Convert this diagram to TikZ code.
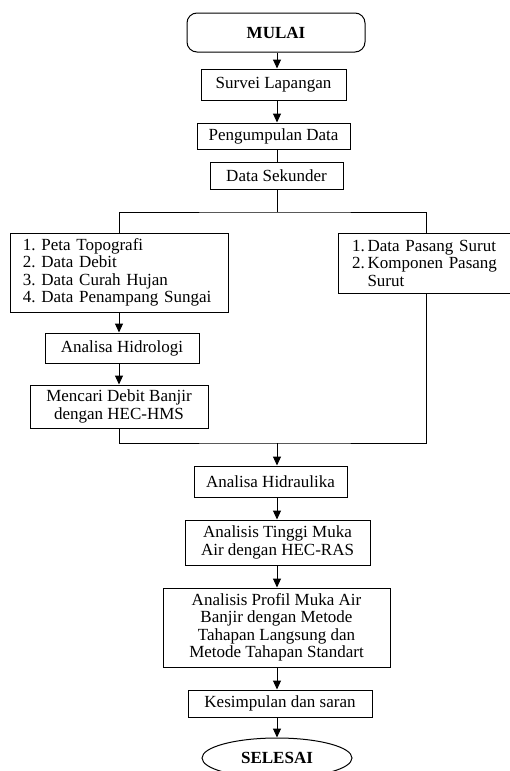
\documentclass[tikz,border=0pt]{standalone}
\usepackage{fontspec}
\setmainfont{Liberation Serif}
\usetikzlibrary{shapes,arrows.meta}
\newcommand{\chartfont}{\fontsize{17}{17.5}\selectfont\frenchspacing}

\tikzset{
  box/.style={draw, line width=1pt, inner sep=0pt, align=center, font=\chartfont},
  listbox/.style={box, align=left},
  term/.style={draw, line width=1pt, inner sep=0pt, font=\chartfont\bfseries},
  flow/.style={line width=1pt, -{Triangle[length=9pt,width=8pt]}},
  link/.style={line width=1pt}
}

\begin{document}
\begin{tikzpicture}[x=1pt,y=-1pt]
\useasboundingbox (0,0) rectangle (510,771);
\clip (0,0) rectangle (510,771);
\coordinate (spine) at (277,0);
\node[term, rounded corners=10pt, minimum width=178pt, minimum height=39pt] (mulai) at (276,32.5) {MULAI};
\node[box, minimum width=145pt, minimum height=31pt] (survei) at (273.5,84.5) {Survei Lapangan};
\node[box, minimum width=153pt, minimum height=26pt] (kumpul) at (273.5,136) {Pengumpulan Data};
\node[box, minimum width=133pt, minimum height=27pt] (sekunder) at (276.5,175.5) {Data Sekunder};
\coordinate (split) at (277,212);
\node[listbox, text width=192pt, inner xsep=13pt, minimum height=79pt] (dataA) at (119,272.5)
  {1. Peta Topografi\\2. Data Debit\\3. Data Curah Hujan\\4. Data Penampang Sungai};
\node[listbox, text width=148pt, inner xsep=14pt, minimum height=60pt] (dataB) at (426,263)
  {1.\,Data Pasang Surut\\2.\,Komponen Pasang\\\hspace*{15.5pt}Surut};
\node[box, minimum width=154pt, minimum height=30pt] (hidrologi) at (122,348) {Analisa Hidrologi};
\node[box, minimum width=178pt, minimum height=43pt] (debit) at (119,406.5) {Mencari Debit Banjir\\dengan HEC-HMS};
\coordinate (join) at (277,443);
\node[box, minimum width=153pt, minimum height=31pt] (hidraulika) at (270.5,481.5) {Analisa Hidraulika};
\node[box, minimum width=185pt, minimum height=45pt] (tinggi) at (277.5,542.5) {Analisis Tinggi Muka\\Air dengan HEC-RAS};
\node[box, minimum width=227pt, minimum height=79pt] (profil) at (276.5,627.5)
  {Analisis Profil Muka Air\\Banjir dengan Metode\\Tahapan Langsung dan\\Metode Tahapan Standart};
\node[box, minimum width=184pt, minimum height=27pt] (simpul) at (280,703.5) {Kesimpulan dan saran};
\node[term, ellipse, minimum width=150pt, minimum height=40pt] (selesai) at (277,758) {SELESAI};

% alur utama
\draw[flow] (mulai.south -| spine) -- (survei.north -| spine);
\draw[flow] (survei.south -| spine) -- (kumpul.north -| spine);
\draw[link] (kumpul.south -| spine) -- (sekunder.north -| spine);
\draw[link] (sekunder.south -| spine) -- (split);
\draw[link] (dataA.north) |- (split) -| (dataB.north);
\draw[flow] (dataA.south) -- (dataA.south |- hidrologi.north);
\draw[flow] (hidrologi.south -| dataA) -- (debit.north -| dataA);
\draw[link] (debit.south) |- (join) -| (dataB.south);
\draw[flow] (join) -- (hidraulika.north -| spine);
\draw[flow] (hidraulika.south -| spine) -- (tinggi.north -| spine);
\draw[flow] (tinggi.south -| spine) -- (profil.north -| spine);
\draw[flow] (profil.south -| spine) -- (simpul.north -| spine);
\draw[flow] (simpul.south -| spine) -- (selesai.north);
\end{tikzpicture}
\end{document}
